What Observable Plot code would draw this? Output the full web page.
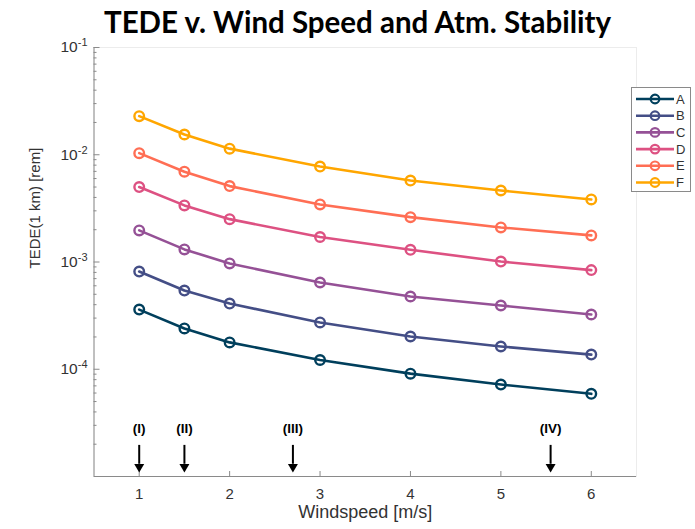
<!DOCTYPE html>
<html>
<head>
<meta charset="utf-8">
<script src="https://cdn.jsdelivr.net/npm/d3@7"></script>
<script src="https://cdn.jsdelivr.net/npm/@observablehq/plot@0.6"></script>
<style>
  html, body { margin: 0; padding: 0; background: #fff; }
  body { width: 695px; height: 529px; overflow: hidden; position: relative; font-family: "Liberation Sans", Arial, sans-serif; }
  #title { position: absolute; left: 10px; top: 2px; width: 695px; height: 40px; line-height: 40px; text-align: center; z-index: 2;
           font-family: Lato, "Open Sans", sans-serif; font-weight: bold; font-size: 29.5px; color: #000; white-space: nowrap; }
  #chart { position: absolute; left: 0; top: 0; z-index: 1; }
  #legend { position: absolute; left: 631px; top: 87px; width: 58px; height: 103px; border: 1px solid #8a8a8a; background: #fff; z-index: 3; }
</style>
</head>
<body>
<div id="title">TEDE v. Wind Speed and Atm. Stability</div>
<div id="chart"></div>
<div id="legend"></div>
<script>
// ---- Data ----
const windspeed = [1, 1.5, 2, 3, 4, 5, 6];
const seriesNames = ["A", "B", "C", "D", "E", "F"];
const seriesColors = ["#003f5c", "#444e86", "#955196", "#dd5182", "#ff6e54", "#ffa600"];
const A = [3.6e-4, 2.4e-4, 1.78e-4, 1.22e-4, 9.1e-5, 7.2e-5, 5.9e-5];
const B = [8.15e-4, 5.42e-4, 4.1e-4, 2.73e-4, 2.02e-4, 1.63e-4, 1.37e-4];
const C = [1.97e-3, 1.31e-3, 9.7e-4, 6.44e-4, 4.77e-4, 3.93e-4, 3.24e-4];
const D = [5.0e-3, 3.37e-3, 2.51e-3, 1.71e-3, 1.3e-3, 1.01e-3, 8.4e-4];
const E = [1.035e-2, 6.95e-3, 5.1e-3, 3.44e-3, 2.62e-3, 2.1e-3, 1.77e-3];
const F = [2.29e-2, 1.545e-2, 1.14e-2, 7.76e-3, 5.75e-3, 4.64e-3, 3.83e-3];
const xTicks = [1, 2, 3, 4, 5, 6];
const yTicks = [1e-4, 1e-3, 1e-2, 1e-1];
const arrowX = [1, 1.5, 2.7, 5.55];
const arrowLabels = ["(I)", "(II)", "(III)", "(IV)"];
const titleText = "TEDE v. Wind Speed and Atm. Stability";
const xLabel = "Windspeed [m/s]";
const yLabel = "TEDE(1 km) [rem]";

// ---- Build tables ----
const seriesValues = [A, B, C, D, E, F];
const rows = seriesNames.flatMap((name, s) =>
  windspeed.map((x, i) => ({ series: name, x, y: seriesValues[s][i] })));
const arrows = arrowX.map((x, i) => ({ x, label: arrowLabels[i] }));
const minorTicks = [];
for (let e = -5; e <= -2; e++) for (let m = 2; m <= 9; m++) minorTicks.push(m * Math.pow(10, e));

const axisGray = "#8a8a8a";
const textGray = "#333";

const chart = Plot.plot({
  width: 695,
  height: 529,
  marginLeft: 93.5,
  marginRight: 59,
  marginTop: 47,
  marginBottom: 53,
  style: { fontFamily: "'Liberation Sans', Arial, sans-serif", fontSize: "14px", color: textGray, background: "transparent" },
  x: { domain: [0.5, 6.5] },
  y: { type: "log", domain: [1e-5, 1e-1] },
  color: { domain: seriesNames, range: seriesColors },
  marks: [
    Plot.frame({ stroke: "#ececec" }),
    Plot.ruleX([0.5], { stroke: axisGray }),
    Plot.ruleY([1e-5], { stroke: axisGray }),
    Plot.axisX({ ticks: xTicks, tickSize: -5, tickPadding: 16.5, stroke: axisGray, fill: textGray, fontSize: 15, label: null, tickFormat: d => String(d) }),
    Plot.axisY({ ticks: yTicks, tickSize: -6, tickPadding: 12.5, stroke: axisGray, fill: textGray, fontSize: 15.5, label: null,
                 tickFormat: d => "10^" + Math.round(Math.log10(d)) }),
    Plot.axisY({ ticks: minorTicks, tickSize: -3, stroke: axisGray, label: null, tickFormat: () => "" }),
    Plot.text([xLabel], { frameAnchor: "bottom", dy: 41.5, fontSize: 18, fill: textGray }),
    Plot.text([yLabel], { frameAnchor: "left", rotate: -90, dx: -58.5, dy: 6.5, fontSize: 15, fill: textGray }),
    Plot.line(rows, { x: "x", y: "y", stroke: "series", strokeWidth: 2.6 }),
    Plot.dot(rows, { x: "x", y: "y", stroke: "series", r: 4.8, strokeWidth: 2.4, fill: "none" }),
    Plot.ruleX(arrows, { x: "x", y1: 1.95e-5, y2: 1.3e-5, stroke: "black", strokeWidth: 2 }),
    Plot.dot(arrows, { x: "x", y: 1.23e-5, symbol: "triangle", rotate: 180, r: 3.7, fill: "black", stroke: "none" }),
    Plot.text(arrows, { x: "x", y: 2.78e-5, text: "label", fontWeight: "bold", fontSize: 13.5, fill: "black" })
  ]
});
document.getElementById("chart").appendChild(chart);

// superscript exponents on y tick labels
d3.select(chart).selectAll("g[aria-label='y-axis tick label'] text").each(function () {
  const t = d3.select(this);
  const s = t.text();
  if (!s.startsWith("10^")) return;
  const exp = s.slice(3);
  t.text(null);
  t.append("tspan").text("10");
  t.append("tspan").attr("dy", "-0.55em").attr("font-size", "11px").text(exp);
});

// ---- Legend ----
const leg = d3.select("#legend").append("svg").attr("width", 58).attr("height", 103);
seriesNames.forEach((name, i) => {
  const y = 11 + i * 16.7;
  const g = leg.append("g");
  g.append("line").attr("x1", 4).attr("x2", 42).attr("y1", y).attr("y2", y)
    .attr("stroke", seriesColors[i]).attr("stroke-width", 2.6);
  g.append("circle").attr("cx", 23).attr("cy", y).attr("r", 4.3)
    .attr("stroke", seriesColors[i]).attr("stroke-width", 2.2).attr("fill", "none");
  g.append("text").attr("x", 44).attr("y", y).attr("dy", "0.36em")
    .attr("font-size", 13).attr("fill", textGray)
    .attr("font-family", "'Liberation Sans', Arial, sans-serif").text(name);
});
</script>
</body>
</html>
